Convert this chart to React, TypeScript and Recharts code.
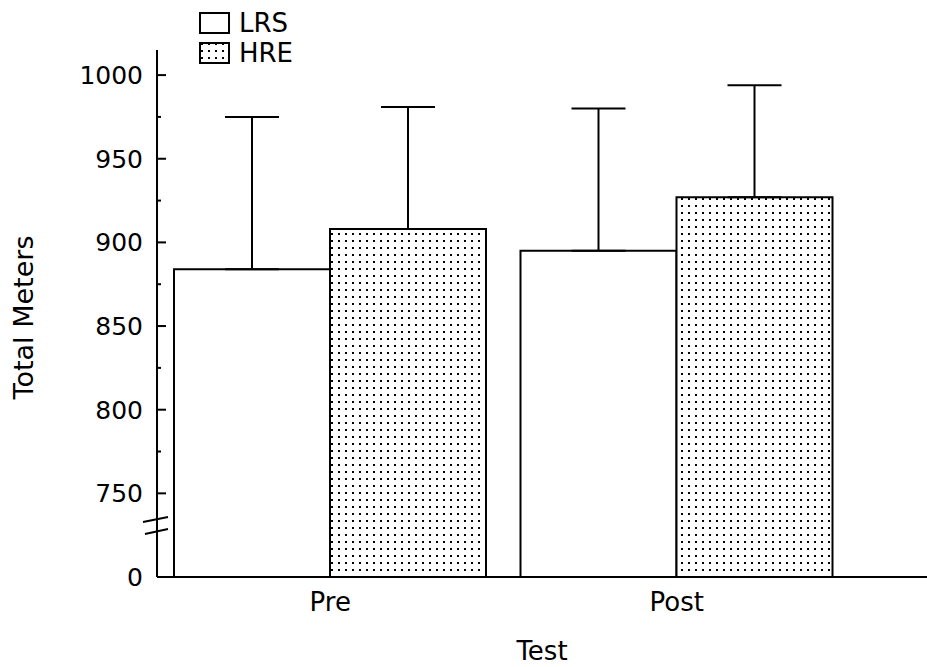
import { BarChart, Bar, XAxis, YAxis, ErrorBar } from "recharts";

const tests = ["Pre", "Post"];
const lrsMeans = [884, 895];
const hreMeans = [908, 927];
const lrsSd = [91, 85];
const hreSd = [73, 67];
const yTicks = [700, 750, 775, 800, 825, 850, 875, 900, 925, 950, 975, 1000];

const data = tests.map((t, i) => ({
  test: t,
  lrs: lrsMeans[i],
  hre: hreMeans[i],
  lrsErr: [0, lrsSd[i]],
  hreErr: [0, hreSd[i]],
}));

const font = "DejaVu Sans";

const YTick = ({ x, y, payload }: any) => {
  const v = payload.value;
  const major = v % 50 === 0;
  const ax = x + 14;
  return (
    <g>
      {major && (
        <text x={x} y={y} dy="0.36em" textAnchor="end" fontSize={25} fontFamily={font} fill="#000">
          {v === 700 ? "0" : v}
        </text>
      )}
      {v !== 700 && (
        <line x1={ax} x2={ax + (major ? 9 : 4)} y1={y} y2={y} stroke="#000" strokeWidth={2} />
      )}
      {v === 700 && (
        <g stroke="#000" strokeWidth={2}>
          <line x1={ax - 14} y1={y - 55} x2={ax + 11} y2={y - 60} />
          <line x1={ax - 12} y1={y - 43} x2={ax + 11} y2={y - 48} />
        </g>
      )}
    </g>
  );
};

const Legend = () => (
  <div style={{ position: "absolute", left: 199, top: 8, fontFamily: font, fontSize: 26, lineHeight: "30px" }}>
    {[
      { name: "LRS", fill: "#fff" },
      { name: "HRE", fill: "url(#dotsLegend)" },
    ].map((d) => (
      <div key={d.name} style={{ display: "flex", alignItems: "center", height: 30 }}>
        <svg width={34} height={24}>
          <defs>
            <pattern id="dotsLegend" width={7} height={7} patternUnits="userSpaceOnUse">
              <rect width={7} height={7} fill="#fff" />
              <rect x={2} y={2} width={2} height={2} fill="#000" />
            </pattern>
          </defs>
          <rect x={1} y={2} width={29} height={20} fill={d.fill} stroke="#000" strokeWidth={2} />
        </svg>
        <span style={{ marginLeft: 6 }}>{d.name}</span>
      </div>
    ))}
  </div>
);

export default function App() {
  return (
    <div style={{ position: "absolute", left: 0, top: 0, width: 927, height: 667, background: "#fff" }}>
      <BarChart
        width={927}
        height={667}
        data={data}
        margin={{ top: 50, right: 0, bottom: 0, left: 0 }}
        barCategoryGap={17}
        barGap={0}
      >
        <defs>
          <pattern id="dots" width={7} height={7} patternUnits="userSpaceOnUse">
            <rect width={7} height={7} fill="#fff" />
            <rect x={2} y={2} width={2} height={2} fill="#000" />
          </pattern>
        </defs>
        <XAxis
          dataKey="test"
          height={90}
          padding={{ left: 0, right: 77 }}
          axisLine={{ stroke: "#000", strokeWidth: 2 }}
          tickLine={false}
          tickSize={0}
          tickMargin={16}
          tick={{ fill: "#000", fontSize: 26, fontFamily: font }}
          label={{
            content: ({ viewBox }: any) => (
              <text
                x={viewBox.x + viewBox.width / 2}
                y={viewBox.y + 83}
                textAnchor="middle"
                fontSize={26}
                fontFamily={font}
                fill="#000"
              >
                Test
              </text>
            ),
          }}
        />
        <YAxis
          width={157}
          domain={[700, 1015]}
          ticks={yTicks}
          interval={0}
          axisLine={{ stroke: "#000", strokeWidth: 2 }}
          tickLine={false}
          tickSize={0}
          tickMargin={14}
          tick={<YTick />}
          label={{
            content: ({ viewBox }: any) => {
              const cx = 23;
              const cy = viewBox.y + viewBox.height / 2 + 4;
              return (
                <text
                  x={cx}
                  y={cy}
                  transform={`rotate(-90 ${cx} ${cy})`}
                  textAnchor="middle"
                  dominantBaseline="central"
                  fontSize={27}
                  fontFamily={font}
                  fill="#000"
                >
                  Total Meters
                </text>
              );
            },
          }}
        />
        <Bar dataKey="lrs" fill="#fff" stroke="#000" strokeWidth={2} isAnimationActive={false}>
          <ErrorBar dataKey="lrsErr" direction="y" width={27} stroke="#000" strokeWidth={2} isAnimationActive={false} />
        </Bar>
        <Bar dataKey="hre" fill="url(#dots)" stroke="#000" strokeWidth={2} isAnimationActive={false}>
          <ErrorBar dataKey="hreErr" direction="y" width={27} stroke="#000" strokeWidth={2} isAnimationActive={false} />
        </Bar>
      </BarChart>
      <Legend />
    </div>
  );
}
